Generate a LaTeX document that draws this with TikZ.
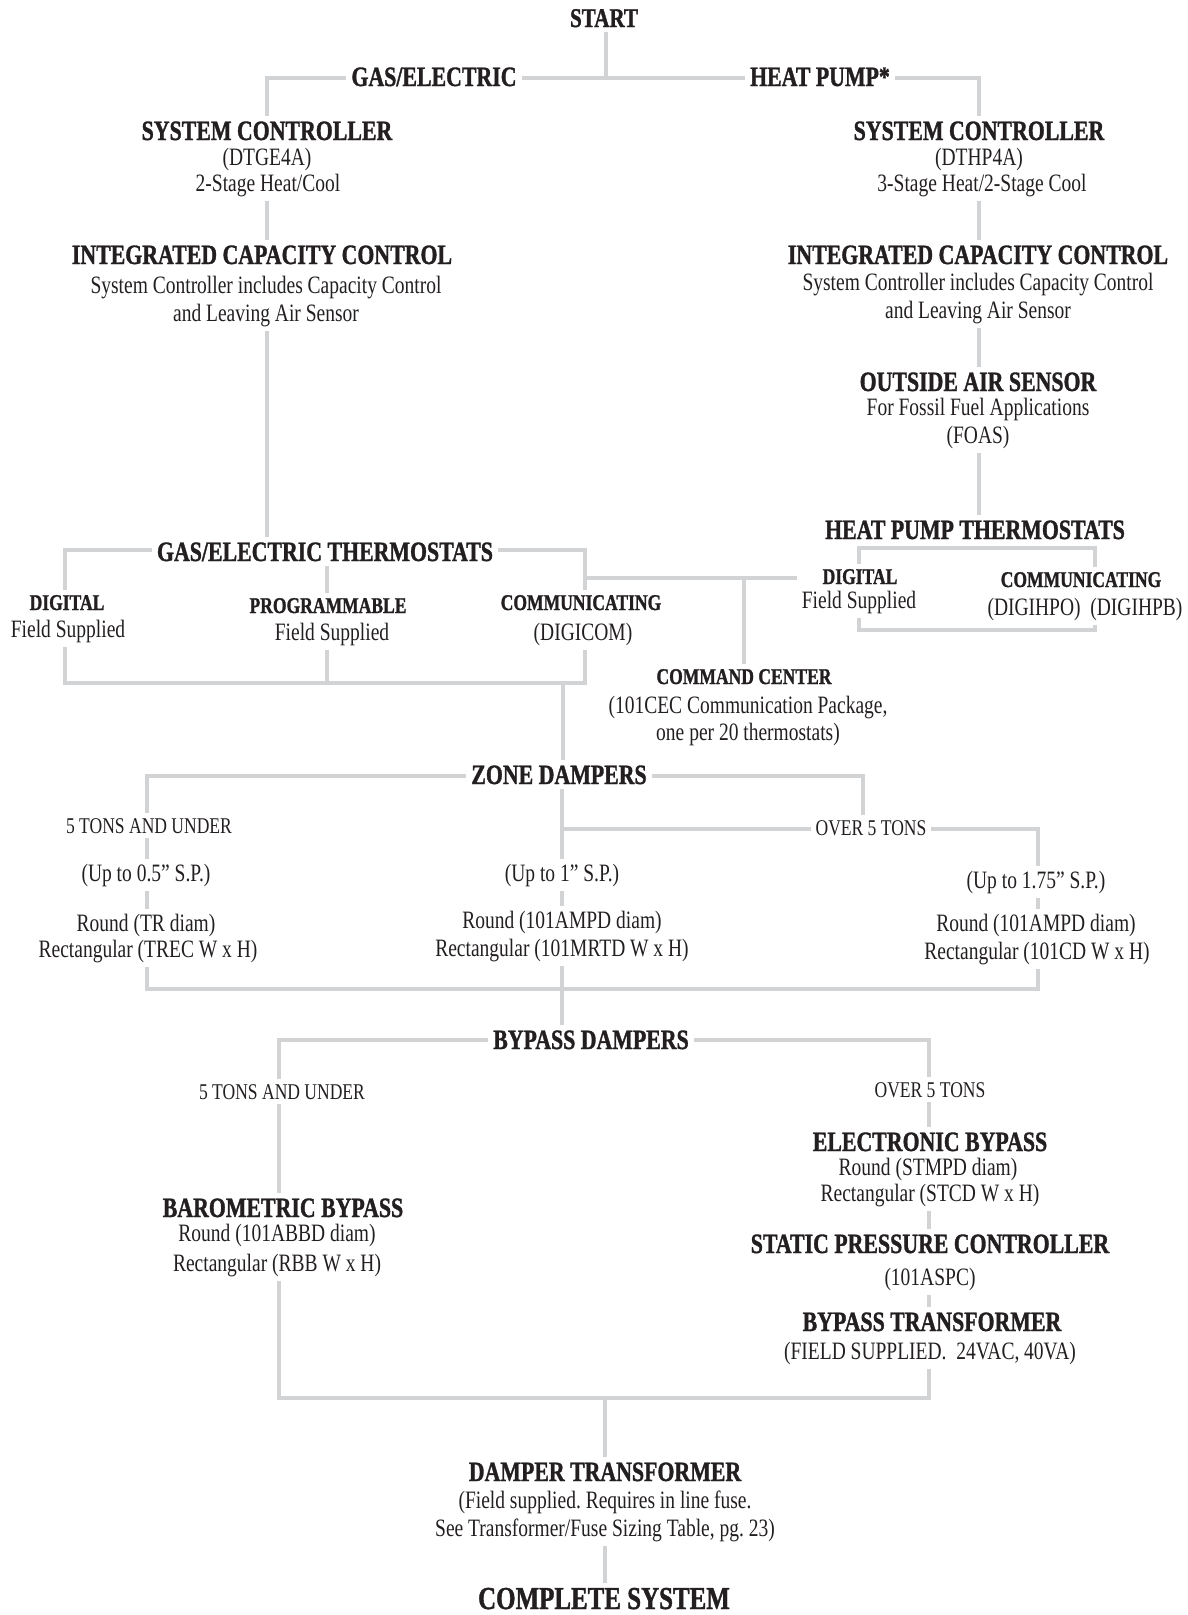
\documentclass[tikz,border=0pt]{standalone}
\usepackage{fontspec}
\setmainfont{Liberation Serif}[FakeStretch=0.78, BoldFeatures={FakeBold=1.2}]
\definecolor{linegray}{RGB}{209,211,212}
\definecolor{ink}{RGB}{35,31,32}
\tikzset{
  conn/.style={draw=linegray, line width=4.5pt, line cap=butt, line join=miter},
  lbl/.style={anchor=base, inner sep=0pt, outer sep=5pt, text=ink},
  hd/.style={lbl, font=\fontsize{28}{30}\selectfont\bfseries},
  hdS/.style={lbl, font=\fontsize{27}{30}\selectfont\bfseries},
  hdL/.style={lbl, font=\fontsize{32}{34}\selectfont\bfseries},
  hs/.style={lbl, font=\fontsize{22.5}{25}\selectfont\bfseries},
  tx/.style={lbl, font=\fontsize{25}{28}\selectfont},
  ts/.style={lbl, font=\fontsize{22.5}{25}\selectfont},
}
\begin{document}
\frenchspacing
\begin{tikzpicture}[x=1pt, y=-1pt]
\useasboundingbox (0,0) rectangle (1188,1615);
% ---------- text nodes ----------
\node[hdS] (start) at (604,27) {START};
\node[hd] (gasel) at (434,86) {GAS/ELECTRIC};
\node[hd] (heatpump) at (820,86) {HEAT PUMP*};
\node[hd] (sc1) at (267,140) {SYSTEM CONTROLLER};
\node[tx] (sc1b) at (267,165) {(DTGE4A)};
\node[tx] (sc1c) at (268,191) {2-Stage Heat/Cool};
\node[hd] (icc1) at (262,264) {INTEGRATED CAPACITY CONTROL};
\node[tx] (icc1b) at (266,293) {System Controller includes Capacity Control};
\node[tx] (icc1c) at (266,321) {and Leaving Air Sensor};
\node[hd] (sc2) at (979,140) {SYSTEM CONTROLLER};
\node[tx] (sc2b) at (979,165) {(DTHP4A)};
\node[tx] (sc2c) at (982,191) {3-Stage Heat/2-Stage Cool};
\node[hd] (icc2) at (978,264) {INTEGRATED CAPACITY CONTROL};
\node[tx] (icc2b) at (978,290) {System Controller includes Capacity Control};
\node[tx] (icc2c) at (978,318) {and Leaving Air Sensor};
\node[hd] (oas) at (978,391) {OUTSIDE AIR SENSOR};
\node[tx] (oasb) at (978,415) {For Fossil Fuel Applications};
\node[tx] (oasc) at (978,443) {(FOAS)};
\node[hd] (hpt) at (975,539) {HEAT PUMP THERMOSTATS};
\node[hs] (hpdig) at (860,584) {DIGITAL};
\node[tx] (hpdigb) at (859,608) {Field Supplied};
\node[hs] (hpcom) at (1081,587) {COMMUNICATING};
\node[tx] (hpcomb) at (1085,615) {(DIGIHPO)\ \ (DIGIHPB)};
\node[hd] (get) at (325,561) {GAS/ELECTRIC THERMOSTATS};
\node[hs] (gdig) at (67,610) {DIGITAL};
\node[tx] (gdigb) at (68,637) {Field Supplied};
\node[hs] (gprog) at (328,613) {PROGRAMMABLE};
\node[tx] (gprogb) at (332,640) {Field Supplied};
\node[hs] (gcom) at (581,610) {COMMUNICATING};
\node[tx] (gcomb) at (583,640) {(DIGICOM)};
\node[hs] (cc) at (744,684) {COMMAND CENTER};
\node[tx] (ccb) at (748,713) {(101CEC Communication Package,};
\node[tx] (ccc) at (748,740) {one per 20 thermostats)};
\node[hd] (zd) at (559,784) {ZONE DAMPERS};
\node[ts] (z1) at (149,833) {5 TONS AND UNDER};
\node[tx] (z1b) at (146,881) {(Up to 0.5” S.P.)};
\node[tx] (z1c) at (146,931) {Round (TR diam)};
\node[tx] (z1d) at (148,957) {Rectangular (TREC W x H)};
\node[ts] (z5) at (871,835) {OVER 5 TONS};
\node[tx] (z2b) at (562,881) {(Up to 1” S.P.)};
\node[tx] (z2c) at (562,928) {Round (101AMPD diam)};
\node[tx] (z2d) at (562,956) {Rectangular (101MRTD W x H)};
\node[tx] (z3b) at (1036,888) {(Up to 1.75” S.P.)};
\node[tx] (z3c) at (1036,931) {Round (101AMPD diam)};
\node[tx] (z3d) at (1037,959) {Rectangular (101CD W x H)};
\node[hd] (bd) at (591,1049) {BYPASS DAMPERS};
\node[ts] (b1) at (282,1099) {5 TONS AND UNDER};
\node[hd] (bb) at (283,1217) {BAROMETRIC BYPASS};
\node[tx] (bbb) at (277,1241) {Round (101ABBD diam)};
\node[tx] (bbc) at (277,1271) {Rectangular (RBB W x H)};
\node[ts] (b2) at (930,1097) {OVER 5 TONS};
\node[hd] (eb) at (930,1151) {ELECTRONIC BYPASS};
\node[tx] (ebb) at (928,1175) {Round (STMPD diam)};
\node[tx] (ebc) at (930,1201) {Rectangular (STCD W x H)};
\node[hd] (spc) at (930,1253) {STATIC PRESSURE CONTROLLER};
\node[tx] (spcb) at (930,1285) {(101ASPC)};
\node[hd] (bt) at (932,1331) {BYPASS TRANSFORMER};
\node[tx] (btb) at (930,1359) {(FIELD SUPPLIED.\ \ 24VAC, 40VA)};
\node[hd] (dt) at (605,1481) {DAMPER TRANSFORMER};
\node[tx] (dtb) at (605,1508) {(Field supplied. Requires in line fuse.};
\node[tx] (dtc) at (605,1536) {See Transformer/Fuse Sizing Table, pg. 23)};
\node[hdL] (cs) at (604,1609) {COMPLETE SYSTEM};
% ---------- junction coordinates ----------
\coordinate (jTop) at (606,78);
\coordinate (tL) at (267,78);
\coordinate (tR) at (979,78);
\coordinate (gL) at (65,550);
\coordinate (gR) at (585,550);
\coordinate (gP) at (327,550);
\coordinate (gbL) at (65,683);
\coordinate (gbR) at (585,683);
\coordinate (gbP) at (327,683);
\coordinate (gbZ) at (563,683);
\coordinate (brA) at (585,578);
\coordinate (brC) at (744,578);
\coordinate (hL) at (859,548);
\coordinate (hR) at (1095,548);
\coordinate (hbL) at (859,630);
\coordinate (hbR) at (1095,630);
\coordinate (zL) at (147,776);
\coordinate (zR) at (863,776);
\coordinate (zM) at (562,829);
\coordinate (zMR) at (1038,829);
\coordinate (zbL) at (147,989);
\coordinate (zbR) at (1038,989);
\coordinate (bL) at (279,1040);
\coordinate (bR) at (929,1040);
\coordinate (bbL) at (279,1398);
\coordinate (bbR) at (929,1398);
\coordinate (bbM) at (605,1398);
% ---------- connectors ----------
\draw[conn] (start.south -| jTop) -- (jTop);
\draw[conn] (gasel.west |- tL) -- (tL) -- (sc1.north -| tL);
\draw[conn] (gasel.east |- tL) -- (heatpump.west |- tL);
\draw[conn] (heatpump.east |- tR) -- (tR) -- (sc2.north -| tR);
\draw[conn] (sc1c.south -| tL) -- (icc1.north -| tL);
\draw[conn] (icc1c.south -| tL) -- (get.north -| tL);
\draw[conn] (sc2c.south -| tR) -- (icc2.north -| tR);
\draw[conn] (icc2c.south -| tR) -- (oas.north -| tR);
\draw[conn] (oasc.south -| tR) -- (hpt.north -| tR);
% heat pump thermostats
\draw[conn] (hpdig.north -| hL) -- (hL) -- (hR) -- (hpcom.north -| hR);
\draw[conn] (hpdigb.south -| hbL) -- (hbL) -- (hbR) -- (hpcomb.south -| hbR);
% gas/electric thermostats
\draw[conn] (get.west |- gL) -- (gL) -- (gdig.north -| gL);
\draw[conn] (get.east |- gR) -- (gR) -- (gcom.north -| gR);
\draw[conn] (get.south -| gP) -- (gprog.north -| gP);
\draw[conn] (gdigb.south -| gbL) -- (gbL) -- (gbR) -- (gcomb.south -| gbR);
\draw[conn] (gprogb.south -| gbP) -- (gbP);
\draw[conn] (brA) -- (hpdigb.west |- brA);
\draw[conn] (brC) -- (cc.north -| brC);
\draw[conn] (gbZ) -- (zd.north -| gbZ);
% zone dampers
\draw[conn] (zd.west |- zL) -- (zL) -- (z1.north -| zL);
\draw[conn] (zd.east |- zR) -- (zR) -- (z5.north -| zR);
\draw[conn] (z1.south -| zL) -- (z1b.north -| zL);
\draw[conn] (z1b.south -| zL) -- (z1c.north -| zL);
\draw[conn] (z1d.south -| zbL) -- (zbL) -- (zbR) -- (z3d.south -| zbR);
\draw[conn] (zd.south -| zM) -- (z2b.north -| zM);
\draw[conn] (zM) -- (z5.west |- zM);
\draw[conn] (z5.east |- zMR) -- (zMR) -- (z3b.north -| zMR);
\draw[conn] (z2b.south -| zM) -- (z2c.north -| zM);
\draw[conn] (z3b.south -| zMR) -- (z3c.north -| zMR);
\draw[conn] (z2d.south -| zM) -- (bd.north -| zM);
% bypass dampers
\draw[conn] (bd.west |- bL) -- (bL) -- (b1.north -| bL);
\draw[conn] (bd.east |- bR) -- (bR) -- (b2.north -| bR);
\draw[conn] (b1.south -| bL) -- (bb.north -| bL);
\draw[conn] (b2.south -| bR) -- (eb.north -| bR);
\draw[conn] (ebc.south -| bR) -- (spc.north -| bR);
\draw[conn] (spcb.south -| bR) -- (bt.north -| bR);
\draw[conn] (bbc.south -| bbL) -- (bbL) -- (bbR) -- (btb.south -| bbR);
\draw[conn] (bbM) -- (dt.north -| bbM);
\draw[conn] (dtc.south -| bbM) -- (cs.north -| bbM);
\end{tikzpicture}
\end{document}
